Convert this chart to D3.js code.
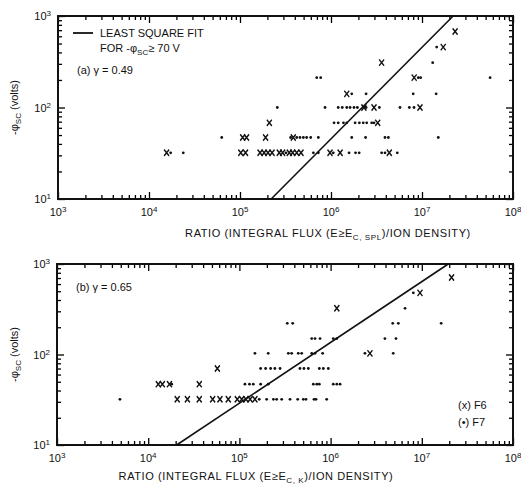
<!DOCTYPE html>
<html>
<head>
<meta charset="utf-8">
<script src="https://cdn.jsdelivr.net/npm/d3@7"></script>
<style>
body { margin: 0; background: #fff; }
text { font-family: "Liberation Sans", Arial, sans-serif; fill: #111; }
</style>
</head>
<body>
<svg id="chart" width="521" height="487"></svg>
<script>
// tick values
var xTickValues = [1e3, 1e4, 1e5, 1e6, 1e7, 1e8];
var yTickValues = [1e1, 1e2, 1e3];

// panel (a): [ratio, -phi_sc]
var aF6 = [
  [1.56e4, 32], [1.02e5, 32], [1.15e5, 32], [1.66e5, 32], [1.84e5, 32], [2.03e5, 32], [2.25e5, 32],
  [2.7e5, 32], [2.94e5, 32], [3.48e5, 32], [3.79e5, 32], [4.2e5, 32], [4.68e5, 32], [9.75e5, 32],
  [1.26e6, 32], [4.37e6, 32],
  [1.07e5, 47], [1.18e5, 47], [1.91e5, 47], [3.85e5, 47],
  [2.1e5, 68], [3.26e6, 68],
  [2.3e6, 100], [2.97e6, 100], [9.5e6, 100],
  [1.49e6, 141],
  [8.2e6, 212],
  [3.6e6, 309],
  [1.71e7, 457],
  [2.31e7, 676]
];
var aF7 = [
  [1.73e4, 32], [2.38e4, 32], [3.2e5, 32], [6.4e5, 32], [7.26e5, 32], [1.06e6, 32], [1.58e6, 32],
  [1.86e6, 32], [2.04e6, 32], [3.6e6, 32], [3.92e6, 32], [5.35e6, 32],
  [6.3e4, 47], [3.6e5, 47], [4.2e5, 47], [4.56e5, 47], [4.97e5, 47], [5.4e5, 47], [5.98e5, 47],
  [7.26e5, 47], [1.69e6, 47], [2.4e6, 47], [3.92e6, 47], [4.27e6, 47], [1.51e7, 47],
  [1.08e6, 68], [1.2e6, 68], [1.37e6, 68], [1.49e6, 68], [1.84e6, 68], [2.05e6, 68], [2.26e6, 68],
  [2.47e6, 68], [2.8e6, 68], [2.97e6, 68],
  [2.57e5, 100], [8.6e5, 100], [1.2e6, 100], [1.33e6, 100], [1.49e6, 100], [1.62e6, 100], [1.79e6, 100],
  [1.95e6, 100], [2.43e6, 100], [3.4e6, 100], [5.73e6, 100], [7.26e6, 100], [8.17e6, 100],
  [1.69e6, 141], [2.43e6, 141], [8.0e6, 141], [1.43e7, 141],
  [6.97e5, 212], [7.7e5, 212], [9.1e6, 212], [9.66e6, 212], [5.6e7, 212],
  [1.31e7, 309],
  [1.45e7, 457]
];
var aFit = [[2.2e5, 10], [2.2e7, 1000]];

// panel (b)
var bF6 = [
  [2.08e4, 32], [2.69e4, 32], [3.63e4, 32], [5.09e4, 32], [6.12e4, 32], [7.55e4, 32], [9.48e4, 32],
  [1.06e5, 32], [1.18e5, 32], [1.31e5, 32], [1.48e5, 32],
  [1.29e4, 47], [1.43e4, 47], [1.71e4, 47], [3.63e4, 47],
  [5.73e4, 70],
  [2.7e6, 103],
  [1.17e6, 324],
  [9.55e6, 480],
  [2.12e7, 710]
];
var bF7 = [
  [4.9e3, 32], [1.65e5, 32], [1.99e5, 32], [2.36e5, 32], [2.56e5, 32], [2.91e5, 32], [3.59e5, 32],
  [4.36e5, 32], [5.02e5, 32], [5.37e5, 32], [6.58e5, 32], [6.92e5, 32], [9.06e5, 32],
  [1.81e4, 47], [1.15e5, 47], [1.29e5, 47], [1.42e5, 47], [1.71e5, 47], [2.07e5, 47], [6.47e5, 47],
  [7.05e5, 47], [7.52e5, 47], [1.07e6, 47], [1.17e6, 47], [1.27e6, 47],
  [1.71e5, 70], [1.94e5, 70], [2.2e5, 70], [2.45e5, 70], [2.79e5, 70], [4.61e5, 70], [5.1e5, 70],
  [5.7e5, 70], [7.52e5, 70], [8.32e5, 70], [9.44e5, 70],
  [1.48e5, 103], [2.07e5, 103], [3.44e5, 103], [3.74e5, 103], [4.42e5, 103], [4.82e5, 103],
  [6.21e5, 103], [6.75e5, 103], [8.18e5, 103], [2.38e6, 103], [4.86e6, 103],
  [6.21e5, 150], [6.75e5, 150], [7.66e5, 150], [1.07e6, 150], [1.17e6, 150], [3.94e6, 150], [5.21e6, 150],
  [3.35e5, 221], [3.84e5, 221], [4.8e6, 221], [5.53e6, 221], [1.63e7, 221],
  [6.55e6, 324],
  [8.07e6, 480]
];
var bFit = [[2.05e4, 10], [1.95e7, 1000]];

var svg = d3.select("#chart");

function supLabel(sel) {
  sel.each(function(d) {
    var t = d3.select(this).text("");
    t.append("tspan").text("10");
    t.append("tspan").attr("dy", -4).attr("font-size", 8).text(Math.round(Math.log10(d)));
  });
}

function drawPanel(p) {
  var w = p.right - p.left, h = p.bottom - p.top;
  var g = svg.append("g").attr("transform", "translate(" + p.left + "," + p.top + ")");

  var x = d3.scaleLog().domain([1e3, 1e8]).range([0, w]);
  var y = d3.scaleLog().domain([1e1, 1e3]).range([h, 0]);

  function isMajor(d) { return Math.abs(Math.log10(d) % 1) < 1e-9; }

  // ticks point inward on all four sides
  var xb = g.append("g").attr("transform", "translate(0," + h + ")")
    .call(d3.axisBottom(x).ticks(10).tickSizeOuter(0).tickFormat(""));
  var xt = g.append("g").call(d3.axisTop(x).ticks(10).tickSizeOuter(0).tickFormat(""));
  var yl = g.append("g").call(d3.axisLeft(y).ticks(10).tickSizeOuter(0).tickFormat(""));
  var yr = g.append("g").attr("transform", "translate(" + w + ",0)")
    .call(d3.axisRight(y).ticks(10).tickSizeOuter(0).tickFormat(""));

  [xb, xt].forEach(function(a) {
    a.selectAll(".tick line").attr("y2", function(d) { return isMajor(d) ? (a === xb ? -7 : 7) : (a === xb ? -4 : 4); })
      .attr("stroke-width", 1.3);
  });
  [yl, yr].forEach(function(a) {
    a.selectAll(".tick line").attr("x2", function(d) { return isMajor(d) ? (a === yl ? 7 : -7) : (a === yl ? 4 : -4); })
      .attr("stroke-width", 1.3);
  });
  g.selectAll(".domain").remove();

  g.append("rect").attr("width", w).attr("height", h)
    .attr("fill", "none").attr("stroke", "#111").attr("stroke-width", 2);

  // tick labels
  g.selectAll(".xlab").data(xTickValues).enter().append("text")
    .attr("class", "xlab")
    .attr("x", function(d) { return x(d); })
    .attr("y", h + 17)
    .attr("text-anchor", "middle")
    .attr("font-size", 11)
    .call(supLabel);
  g.selectAll(".ylab").data(yTickValues).enter().append("text")
    .attr("class", "ylab")
    .attr("x", -7)
    .attr("y", function(d) { return y(d) + 4; })
    .attr("text-anchor", "end")
    .attr("font-size", 11)
    .call(supLabel);

  // fit line
  var line = d3.line().x(function(d) { return x(d[0]); }).y(function(d) { return y(d[1]); });
  g.append("path").datum(p.fit).attr("d", line)
    .attr("fill", "none").attr("stroke", "#111").attr("stroke-width", 1.6);

  // dots (F7)
  g.selectAll(".f7").data(p.f7).enter().append("circle")
    .attr("class", "f7")
    .attr("cx", function(d) { return x(d[0]); })
    .attr("cy", function(d) { return y(d[1]); })
    .attr("r", 1.4)
    .attr("fill", "#111");

  // crosses (F6)
  var xs = d3.symbol().type(d3.symbolX).size(18);
  g.selectAll(".f6").data(p.f6).enter().append("path")
    .attr("class", "f6")
    .attr("d", xs)
    .attr("transform", function(d) { return "translate(" + x(d[0]) + "," + y(d[1]) + ") scale(1,1.25)"; })
    .attr("fill", "none").attr("stroke", "#111").attr("stroke-width", 1.3);

  // x title
  var xtitle = g.append("text")
    .attr("x", p.titleX - p.left).attr("y", h + p.titleDy)
    .attr("text-anchor", "middle").attr("font-size", 11).attr("letter-spacing", 0.6);
  xtitle.append("tspan").text("RATIO (INTEGRAL FLUX (E\u2265E");
  xtitle.append("tspan").attr("dy", 3).attr("font-size", 8).text(p.sub);
  xtitle.append("tspan").attr("dy", -3).text(")/ION DENSITY)");

  // y title
  var ytitle = svg.append("text")
    .attr("transform", "translate(18," + (p.top + h / 2) + ") rotate(-90)")
    .attr("text-anchor", "middle").attr("font-size", 11);
  ytitle.append("tspan").text("-\u03c6");
  ytitle.append("tspan").attr("dy", 3).attr("font-size", 8).text("SC");
  ytitle.append("tspan").attr("dy", -3).text(" (volts)");

  return g;
}

var ga = drawPanel({ left: 58, right: 513, top: 16, bottom: 199, f6: aF6, f7: aF7, fit: aFit,
  sub: "C, SPL", titleX: 328, titleDy: 38 });
var gb = drawPanel({ left: 57, right: 513, top: 264, bottom: 445, f6: bF6, f7: bF7, fit: bFit,
  sub: "C, K", titleX: 256, titleDy: 35 });

// legend, panel (a)
ga.append("line").attr("x1", 15).attr("x2", 35).attr("y1", 17).attr("y2", 17)
  .attr("stroke", "#111").attr("stroke-width", 1.8);
ga.append("text").attr("x", 42).attr("y", 21).attr("font-size", 11).text("LEAST SQUARE FIT");
var t2 = ga.append("text").attr("x", 42).attr("y", 36).attr("font-size", 11);
t2.append("tspan").text("FOR -\u03c6");
t2.append("tspan").attr("dy", 3).attr("font-size", 8).text("SC");
t2.append("tspan").attr("dy", -3).text("\u2265 70 V");
ga.append("text").attr("x", 19).attr("y", 58).attr("font-size", 11).text("(a)  \u03b3 = 0.49");

// panel (b) labels
gb.append("text").attr("x", 19).attr("y", 27).attr("font-size", 11).text("(b)  \u03b3 = 0.65");
gb.append("text").attr("x", 401).attr("y", 145).attr("font-size", 11).text("(x) F6");
gb.append("text").attr("x", 401).attr("y", 162).attr("font-size", 11).text("(\u2022) F7");
</script>
</body>
</html>
